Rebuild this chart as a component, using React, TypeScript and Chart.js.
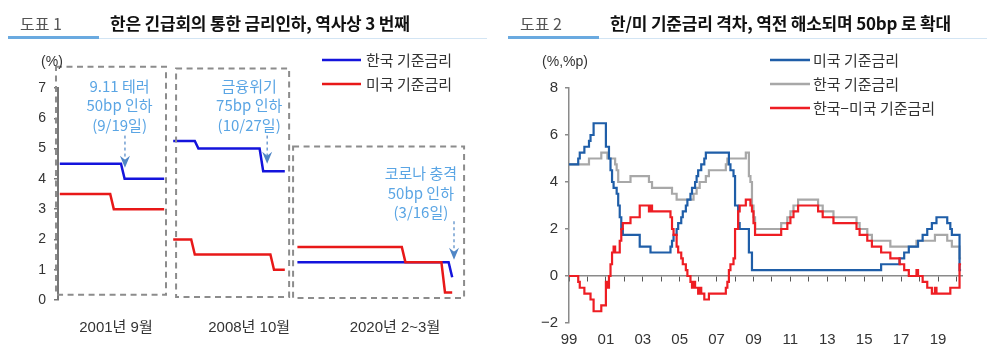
import React, { useEffect, useRef } from 'react';
import { Chart, registerables } from 'chart.js';
Chart.register(...registerables);

const NUM_FONT = '"Liberation Sans", Arial, "Noto Sans CJK KR", sans-serif';
const KR_FONT = '"Noto Sans CJK KR", "Liberation Sans", sans-serif';

// ---------- Figure 1 data (three emergency-cut windows, day indices) ----------
const segLabels = ['2001년 9월', '2008년 10월', '2020년 2~3월'];
const segLabelPos = [16.6, 53.6, 94.1];
const segOffsets = [0, 32.5, 64];

const krDays2001 = [1, 18, 19, 30];
const krRates2001 = [4.5, 4.5, 4.0, 4.0];
const usDays2001 = [1, 15, 16, 30];
const usRates2001 = [3.5, 3.5, 3.0, 3.0];

const krDays2008 = [0, 6, 7, 24, 25, 31];
const krRates2008 = [5.25, 5.25, 5.0, 5.0, 4.25, 4.25];
const usDays2008 = [0, 5, 6, 27, 28, 31];
const usRates2008 = [2.0, 2.0, 1.5, 1.5, 1.0, 1.0];

const krDays2020 = [3, 45, 46];
const krRates2020 = [1.25, 1.25, 0.75];
const usDays2020 = [3, 32, 33, 43, 44, 46];
const usRates2020 = [1.75, 1.75, 1.25, 1.25, 0.25, 0.25];

// ---------- Figure 2 data (month of change -> policy rate) ----------
const usDates = ['1999-01','1999-07','1999-08','1999-11','2000-02','2000-03','2000-05','2001-01','2001-03','2001-04','2001-05','2001-06','2001-08','2001-09','2001-10','2001-11','2001-12','2002-11','2003-06','2004-07','2004-08','2004-09','2004-11','2004-12','2005-02','2005-03','2005-05','2005-06','2005-08','2005-09','2005-11','2005-12','2006-01','2006-03','2006-05','2006-06','2007-09','2007-10','2007-12','2008-01','2008-03','2008-04','2008-10','2008-12','2015-12','2016-12','2017-03','2017-06','2017-12','2018-03','2018-06','2018-09','2018-12','2019-07','2019-09','2019-10','2020-03','2020-04'];
const usRates = [4.75,5.0,5.25,5.5,5.75,6.0,6.5,5.5,5.0,4.5,4.0,3.75,3.5,3.0,2.5,2.0,1.75,1.25,1.0,1.25,1.5,1.75,2.0,2.25,2.5,2.75,3.0,3.25,3.5,3.75,4.0,4.25,4.5,4.75,5.0,5.25,4.75,4.5,4.25,3.0,2.25,2.0,1.0,0.25,0.5,0.75,1.0,1.25,1.5,1.75,2.0,2.25,2.5,2.25,2.0,1.75,0.25,0.25];

const krDates = ['1999-01','2000-02','2000-10','2001-02','2001-07','2001-08','2001-09','2002-05','2003-05','2003-07','2004-08','2004-11','2005-10','2005-12','2006-02','2006-06','2006-08','2007-07','2007-08','2008-08','2008-10','2008-11','2008-12','2009-01','2009-02','2010-07','2010-11','2011-01','2011-03','2011-06','2012-07','2012-10','2013-05','2014-08','2014-10','2015-03','2015-06','2016-06','2017-11','2018-11','2019-07','2019-10','2020-03','2020-04'];
const krRates = [4.75,5.0,5.25,5.0,4.75,4.5,4.0,4.25,4.0,3.75,3.5,3.25,3.5,3.75,4.0,4.25,4.5,4.75,5.0,5.25,4.25,4.0,3.0,2.5,2.0,2.25,2.5,2.75,3.0,3.25,3.0,2.75,2.5,2.25,2.0,1.75,1.5,1.25,1.5,1.75,1.5,1.25,0.75,0.75];

const yearTickValues = [1999, 2001, 2003, 2005, 2007, 2009, 2011, 2013, 2015, 2017, 2019];
const yearTickLabels = ['99', '01', '03', '05', '07', '09', '11', '13', '15', '17', '19'];

const toYear = (s: string) => {
  const [y, m] = s.split('-').map(Number);
  return y + (m - 1) / 12;
};

function segSeries(days: number[][], rates: number[][]) {
  const out: any[] = [];
  days.forEach((d, si) => {
    if (si > 0) out.push({ x: segOffsets[si] - 0.5, y: null });
    d.forEach((v, i) => out.push({ x: segOffsets[si] + v, y: rates[si][i] }));
  });
  return out;
}

function drawArrow(ctx: CanvasRenderingContext2D, x: number, y0: number, y1: number, color: string) {
  ctx.save();
  ctx.strokeStyle = color;
  ctx.lineWidth = 1.2;
  ctx.setLineDash([3, 3]);
  ctx.beginPath();
  ctx.moveTo(x, y0);
  ctx.lineTo(x, y1 - 6);
  ctx.stroke();
  ctx.setLineDash([]);
  ctx.fillStyle = color;
  ctx.beginPath();
  ctx.moveTo(x, y1);
  ctx.lineTo(x - 5, y1 - 12);
  ctx.lineTo(x, y1 - 8);
  ctx.lineTo(x + 5, y1 - 12);
  ctx.closePath();
  ctx.fill();
  ctx.restore();
}

const fig1Plugin = {
  id: 'fig1Deco',
  afterDraw(chart: any) {
    const ctx: CanvasRenderingContext2D = chart.ctx;
    const xs = chart.scales.x;
    const ys = chart.scales.y;
    const boxes = [
      { x0: -0.06, x1: 30.5, top: 7.7, bottom: 0.17 },
      { x0: 33.3, x1: 64.7, top: 7.64, bottom: 0.1 },
      { x0: 65.8, x1: 113.3, top: 5.07, bottom: 0.07 },
    ];
    ctx.save();
    ctx.strokeStyle = '#8C8C8C';
    ctx.lineWidth = 2;
    ctx.setLineDash([6, 4.5]);
    boxes.forEach((b) => {
      const l = xs.getPixelForValue(b.x0);
      const r = xs.getPixelForValue(b.x1);
      const t = ys.getPixelForValue(b.top);
      const bt = ys.getPixelForValue(b.bottom);
      ctx.strokeRect(l, t, r - l, bt - t);
    });
    ctx.restore();

    const notes = [
      { lines: ['9.11 테러', '50bp 인하', '(9/19일)'], x: 17.6, y: 7.07, ax: 19.1, from: 5.43, to: 4.37 },
      { lines: ['금융위기', '75bp 인하', '(10/27일)'], x: 53.6, y: 7.07, ax: 58.6, from: 5.43, to: 4.5 },
      { lines: ['코로나 충격', '50bp 인하', '(3/16일)'], x: 101.3, y: 4.17, ax: 110.5, from: 2.6, to: 1.33 },
    ];
    ctx.save();
    ctx.font = `15px ${KR_FONT}`;
    ctx.fillStyle = '#5AA5E4';
    ctx.textAlign = 'center';
    ctx.textBaseline = 'middle';
    notes.forEach((n) => {
      const cx = xs.getPixelForValue(n.x);
      const cy = ys.getPixelForValue(n.y);
      n.lines.forEach((ln, i) => ctx.fillText(ln, cx, cy + i * 19.5));
      drawArrow(ctx, xs.getPixelForValue(n.ax), ys.getPixelForValue(n.from), ys.getPixelForValue(n.to), '#4F86C6');
    });
    ctx.restore();

    ctx.save();
    ctx.font = `14px ${NUM_FONT}`;
    ctx.fillStyle = '#333';
    ctx.textAlign = 'center';
    ctx.textBaseline = 'middle';
    ctx.fillText('(%)', chart.chartArea.left - 6, chart.chartArea.top - 26);
    ctx.restore();

    // legend
    ctx.save();
    chart.data.datasets.forEach((ds: any, i: number) => {
      const y = 60 + i * 24;
      ctx.strokeStyle = ds.borderColor;
      ctx.lineWidth = 2.5;
      ctx.beginPath();
      ctx.moveTo(322, y);
      ctx.lineTo(361, y);
      ctx.stroke();
      ctx.font = `15px ${KR_FONT}`;
      ctx.fillStyle = '#333';
      ctx.textBaseline = 'middle';
      ctx.fillText(ds.label, 366, y);
    });
    ctx.restore();
  },
};

const fig2Plugin = {
  id: 'fig2Deco',
  afterDraw(chart: any) {
    const ctx: CanvasRenderingContext2D = chart.ctx;
    ctx.save();
    ctx.font = `14px ${NUM_FONT}`;
    ctx.fillStyle = '#333';
    ctx.textAlign = 'center';
    ctx.textBaseline = 'middle';
    ctx.fillText('(%,%p)', chart.chartArea.left - 4, chart.chartArea.top - 26);
    chart.data.datasets.forEach((ds: any, i: number) => {
      const y = 60 + i * 24;
      ctx.strokeStyle = ds.borderColor;
      ctx.lineWidth = 2.5;
      ctx.beginPath();
      ctx.moveTo(270, y);
      ctx.lineTo(310, y);
      ctx.stroke();
      ctx.font = `15px ${KR_FONT}`;
      ctx.fillStyle = '#333';
      ctx.textAlign = 'left';
      ctx.fillText(ds.label, 313, y);
    });
    ctx.restore();
  },
};

function Figure1() {
  const ref = useRef<HTMLCanvasElement>(null);
  useEffect(() => {
    const chart = new Chart(ref.current!, {
      type: 'line',
      data: {
        datasets: [
          {
            label: '한국 기준금리',
            data: segSeries([krDays2001, krDays2008, krDays2020], [krRates2001, krRates2008, krRates2020]),
            borderColor: '#1414DC',
            borderWidth: 2.5,
            pointRadius: 0,
            order: 1,
          },
          {
            label: '미국 기준금리',
            data: segSeries([usDays2001, usDays2008, usDays2020], [usRates2001, usRates2008, usRates2020]),
            borderColor: '#E81818',
            borderWidth: 2.5,
            pointRadius: 0,
            order: 0,
          },
        ],
      },
      options: {
        animation: false,
        responsive: false,
        devicePixelRatio: 1,
        layout: { padding: { left: 0, right: 33.4, top: 88, bottom: 13 } },
        plugins: { legend: { display: false }, tooltip: { enabled: false } },
        scales: {
          x: {
            type: 'linear',
            min: 0.5,
            max: 114,
            border: { display: false },
            grid: { display: false, drawTicks: false },
            afterBuildTicks: (s: any) => { s.ticks = segLabelPos.map((v) => ({ value: v })); },
            afterFit: (s: any) => { s.height = 38; },
            ticks: {
              autoSkip: false,
              maxRotation: 0,
              padding: 19,
              color: '#333',
              font: { size: 15, family: NUM_FONT },
              callback: (_v: any, i: number) => segLabels[i],
            },
          },
          y: {
            min: 0,
            max: 7,
            afterFit: (s: any) => { s.width = 58; },
            border: { display: true, color: '#777', width: 2 },
            grid: { drawOnChartArea: false, tickLength: 4, color: '#777', lineWidth: 1.5 },
            ticks: { stepSize: 1, padding: 8, color: '#333', font: { size: 14, family: NUM_FONT } },
          },
        },
      },
      plugins: [fig1Plugin],
    } as any);
    return () => chart.destroy();
  }, []);
  return <canvas ref={ref} width={500} height={351} style={{ position: 'absolute', left: 0, top: 0 }} />;
}

function Figure2() {
  const ref = useRef<HTMLCanvasElement>(null);
  useEffect(() => {
    const us = usDates.map((d, i) => ({ x: toYear(d), y: usRates[i] }));
    const kr = krDates.map((d, i) => ({ x: toYear(d), y: krRates[i] }));
    const rateAt = (series: { x: number; y: number }[], t: number) => {
      let v = series[0].y;
      series.forEach((p) => { if (p.x <= t + 1e-9) v = p.y; });
      return v;
    };
    const allX = Array.from(new Set([...us.map((p) => p.x), ...kr.map((p) => p.x)])).sort((a, b) => a - b);
    const gap = allX.map((t) => ({ x: t, y: rateAt(kr, t) - rateAt(us, t) }));

    const chart = new Chart(ref.current!, {
      type: 'line',
      data: {
        datasets: [
          { label: '미국 기준금리', data: us, borderColor: '#1F5EA8', borderWidth: 2.2, pointRadius: 0, stepped: 'before', order: 1 },
          { label: '한국 기준금리', data: kr, borderColor: '#A8A8A8', borderWidth: 2.2, pointRadius: 0, stepped: 'before', order: 2 },
          { label: '한국−미국 기준금리', data: gap, borderColor: '#EE1D23', borderWidth: 2.2, pointRadius: 0, stepped: 'before', order: 0 },
        ],
      },
      options: {
        animation: false,
        responsive: false,
        devicePixelRatio: 1,
        layout: { padding: { left: 0, right: 38, top: 88, bottom: 2 } },
        plugins: { legend: { display: false }, tooltip: { enabled: false } },
        scales: {
          x: {
            type: 'linear',
            position: { y: 0 },
            min: 1999,
            max: 2020.3,
            border: { display: true, color: '#8A8A8A', width: 1.5 },
            grid: { drawOnChartArea: false, tickLength: 5, color: '#555', lineWidth: 1 },
            ticks: { display: false, stepSize: 1, includeBounds: false, autoSkip: false },
          },
          x2: {
            type: 'linear',
            position: 'bottom',
            min: 1999,
            max: 2020.3,
            border: { display: false },
            grid: { display: false, drawTicks: false },
            afterBuildTicks: (s: any) => { s.ticks = yearTickValues.map((v) => ({ value: v })); },
            afterFit: (s: any) => { s.height = 26; },
            ticks: {
              autoSkip: false,
              maxRotation: 0,
              padding: 8,
              color: '#333',
              font: { size: 15, family: NUM_FONT },
              callback: (_v: any, i: number) => yearTickLabels[i],
            },
          },
          y: {
            min: -2,
            max: 8,
            afterFit: (s: any) => { s.width = 69; },
            border: { display: true, color: '#8A8A8A', width: 1.5 },
            grid: { drawOnChartArea: false, tickLength: 4, color: '#8A8A8A', lineWidth: 1.5 },
            ticks: {
              stepSize: 2,
              padding: 7,
              color: '#333',
              font: { size: 15, family: NUM_FONT },
              callback: (v: any) => (v < 0 ? '−' + Math.abs(v) : String(v)),
            },
          },
        },
      },
      plugins: [fig2Plugin],
    } as any);
    return () => chart.destroy();
  }, []);
  return <canvas ref={ref} width={500} height={351} style={{ position: 'absolute', left: 0, top: 0 }} />;
}

function Header({ num, title, left }: { num: string; title: string; left: number }) {
  return (
    <div style={{ position: 'absolute', left, top: 0, width: 500, height: 45, zIndex: 2 }}>
      <div style={{ position: 'absolute', left: 20, top: 11, fontFamily: KR_FONT, fontSize: 16, color: '#555', lineHeight: '24px', whiteSpace: 'nowrap' }}>{num}</div>
      <div style={{ position: 'absolute', left: 110, top: 11, fontFamily: KR_FONT, fontSize: 17, fontWeight: 700, color: '#111', lineHeight: '24px', whiteSpace: 'nowrap', letterSpacing: '-0.2px' }}>{title}</div>
      <div style={{ position: 'absolute', left: 8, top: 36, width: 91, height: 3, background: '#6AAAE0' }} />
      <div style={{ position: 'absolute', left: 99, top: 38, width: 388, height: 1, background: '#D3E5F4' }} />
    </div>
  );
}

export default function App() {
  return (
    <div style={{ position: 'fixed', left: 0, top: 0, width: 1000, height: 351, background: '#fff', overflow: 'hidden' }}>
      <div style={{ position: 'absolute', left: 0, top: 0, width: 500, height: 351 }}>
        <Figure1 />
      </div>
      <div style={{ position: 'absolute', left: 500, top: 0, width: 500, height: 351 }}>
        <Figure2 />
      </div>
      <Header num="도표 1" title="한은 긴급회의 통한 금리인하, 역사상 3 번째" left={0} />
      <Header num="도표 2" title="한/미 기준금리 격차, 역전 해소되며 50bp 로 확대" left={500} />
    </div>
  );
}
